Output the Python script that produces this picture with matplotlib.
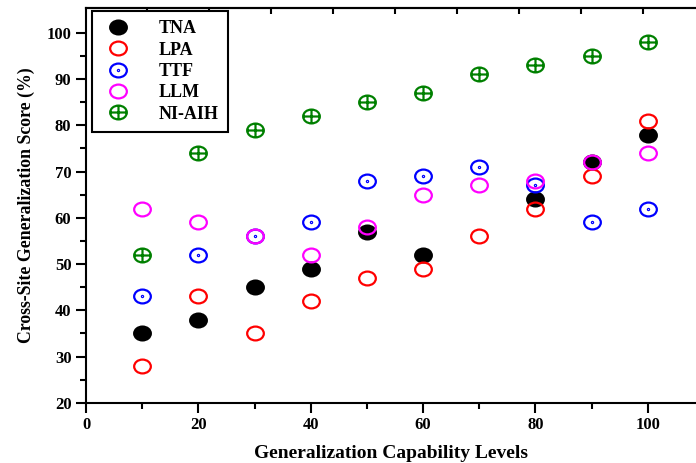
import numpy as np
import matplotlib
matplotlib.use('Agg')
import matplotlib.pyplot as plt
from matplotlib.path import Path

levels = [10, 20, 30, 40, 50, 60, 70, 80, 90, 100]
tna = [35, 38, 45, 49, 57, 52, np.nan, 64, 72, 78]
lpa = [28, 43, 35, 42, 47, 49, 56, 62, 69, 81]
ttf = [43, 52, 56, 59, 68, 69, 71, 67, 59, 62]
llm = [62, 59, 56, 52, 58, 65, 67, 68, 72, 74]
ni_aih = [52, 74, 79, 82, 85, 87, 91, 93, 95, 98]

plt.rcParams['font.family'] = 'Liberation Serif'
plt.rcParams['font.weight'] = 'bold'

# slightly squashed circles like in the original
sq = 0.83
circ = Path.unit_circle()
ell = Path(circ.vertices * [1, sq], circ.codes)
cross = Path([[-1, 0], [1, 0], [0, -sq], [0, sq]],
             [Path.MOVETO, Path.LINETO, Path.MOVETO, Path.LINETO])
dot = Path(circ.vertices * [0.07, 0.07], circ.codes)
m_plus = Path.make_compound_path(ell, cross)
m_dot = Path.make_compound_path(ell, dot)

fig = plt.figure(figsize=(6.96, 4.63), dpi=100)
ax = fig.add_axes([0.1236, 0.130, 0.8764, 0.852])

ms = 12
mew = 1.6
ax.plot(levels, tna, ls='none', marker=ell, ms=ms, mfc='black', mec='black', mew=mew, label='TNA')
ax.plot(levels, lpa, ls='none', marker=ell, ms=ms, mfc='none', mec='red', mew=mew, label='LPA')
ax.plot(levels, ttf, ls='none', marker=m_dot, ms=ms, mfc='none', mec='blue', mew=mew, label='TTF')
ax.plot(levels, llm, ls='none', marker=ell, ms=ms, mfc='none', mec='magenta', mew=mew, label='LLM')
ax.plot(levels, ni_aih, ls='none', marker=m_plus, ms=ms, mfc='none', mec='green', mew=mew, label='NI-AIH')

ax.set_xlim(0, 108.6)
ax.set_ylim(20, 105.3)
ax.set_xticks([0, 20, 40, 60, 80, 100])
ax.set_xticks([10, 30, 50, 70, 90], minor=True)
ax.set_yticks(range(20, 101, 10))
ax.set_yticks(range(25, 101, 10), minor=True)

ax.spines['right'].set_visible(False)
for s in ['left', 'bottom', 'top']:
    ax.spines[s].set_linewidth(1.5)

ax.tick_params(which='major', length=7, width=1.5, labelsize=12, direction='out')
ax.tick_params(which='minor', length=4, width=1.5, direction='out')
for lab in ax.get_xticklabels() + ax.get_yticklabels():
    lab.set_fontweight('bold')

# top axis has its own tick spacing in the original
top = ax.secondary_xaxis('top')
top.set_xticks([10.8 + 11.05 * k for k in range(9)])
top.tick_params(direction='in', length=4, width=1.5, labeltop=False)
top.spines['top'].set_linewidth(1.5)

ax.set_xlabel('Generalization Capability Levels', fontsize=14, fontweight='bold', labelpad=8)
ax.set_ylabel('Cross-Site Generalization Score (%)', fontsize=12.8, fontweight='bold', labelpad=8)

leg = ax.legend(loc='upper left', bbox_to_anchor=(0.0066, 0.997), fancybox=False, edgecolor='black',
                framealpha=1, prop={'family': 'Liberation Serif', 'weight': 'bold', 'size': 13},
                handletextpad=1.3, labelspacing=0.24, borderpad=0.5, handlelength=1.9,
                borderaxespad=0.1)
leg.get_frame().set_linewidth(1.5)

fig.savefig('out.png', dpi=100)
